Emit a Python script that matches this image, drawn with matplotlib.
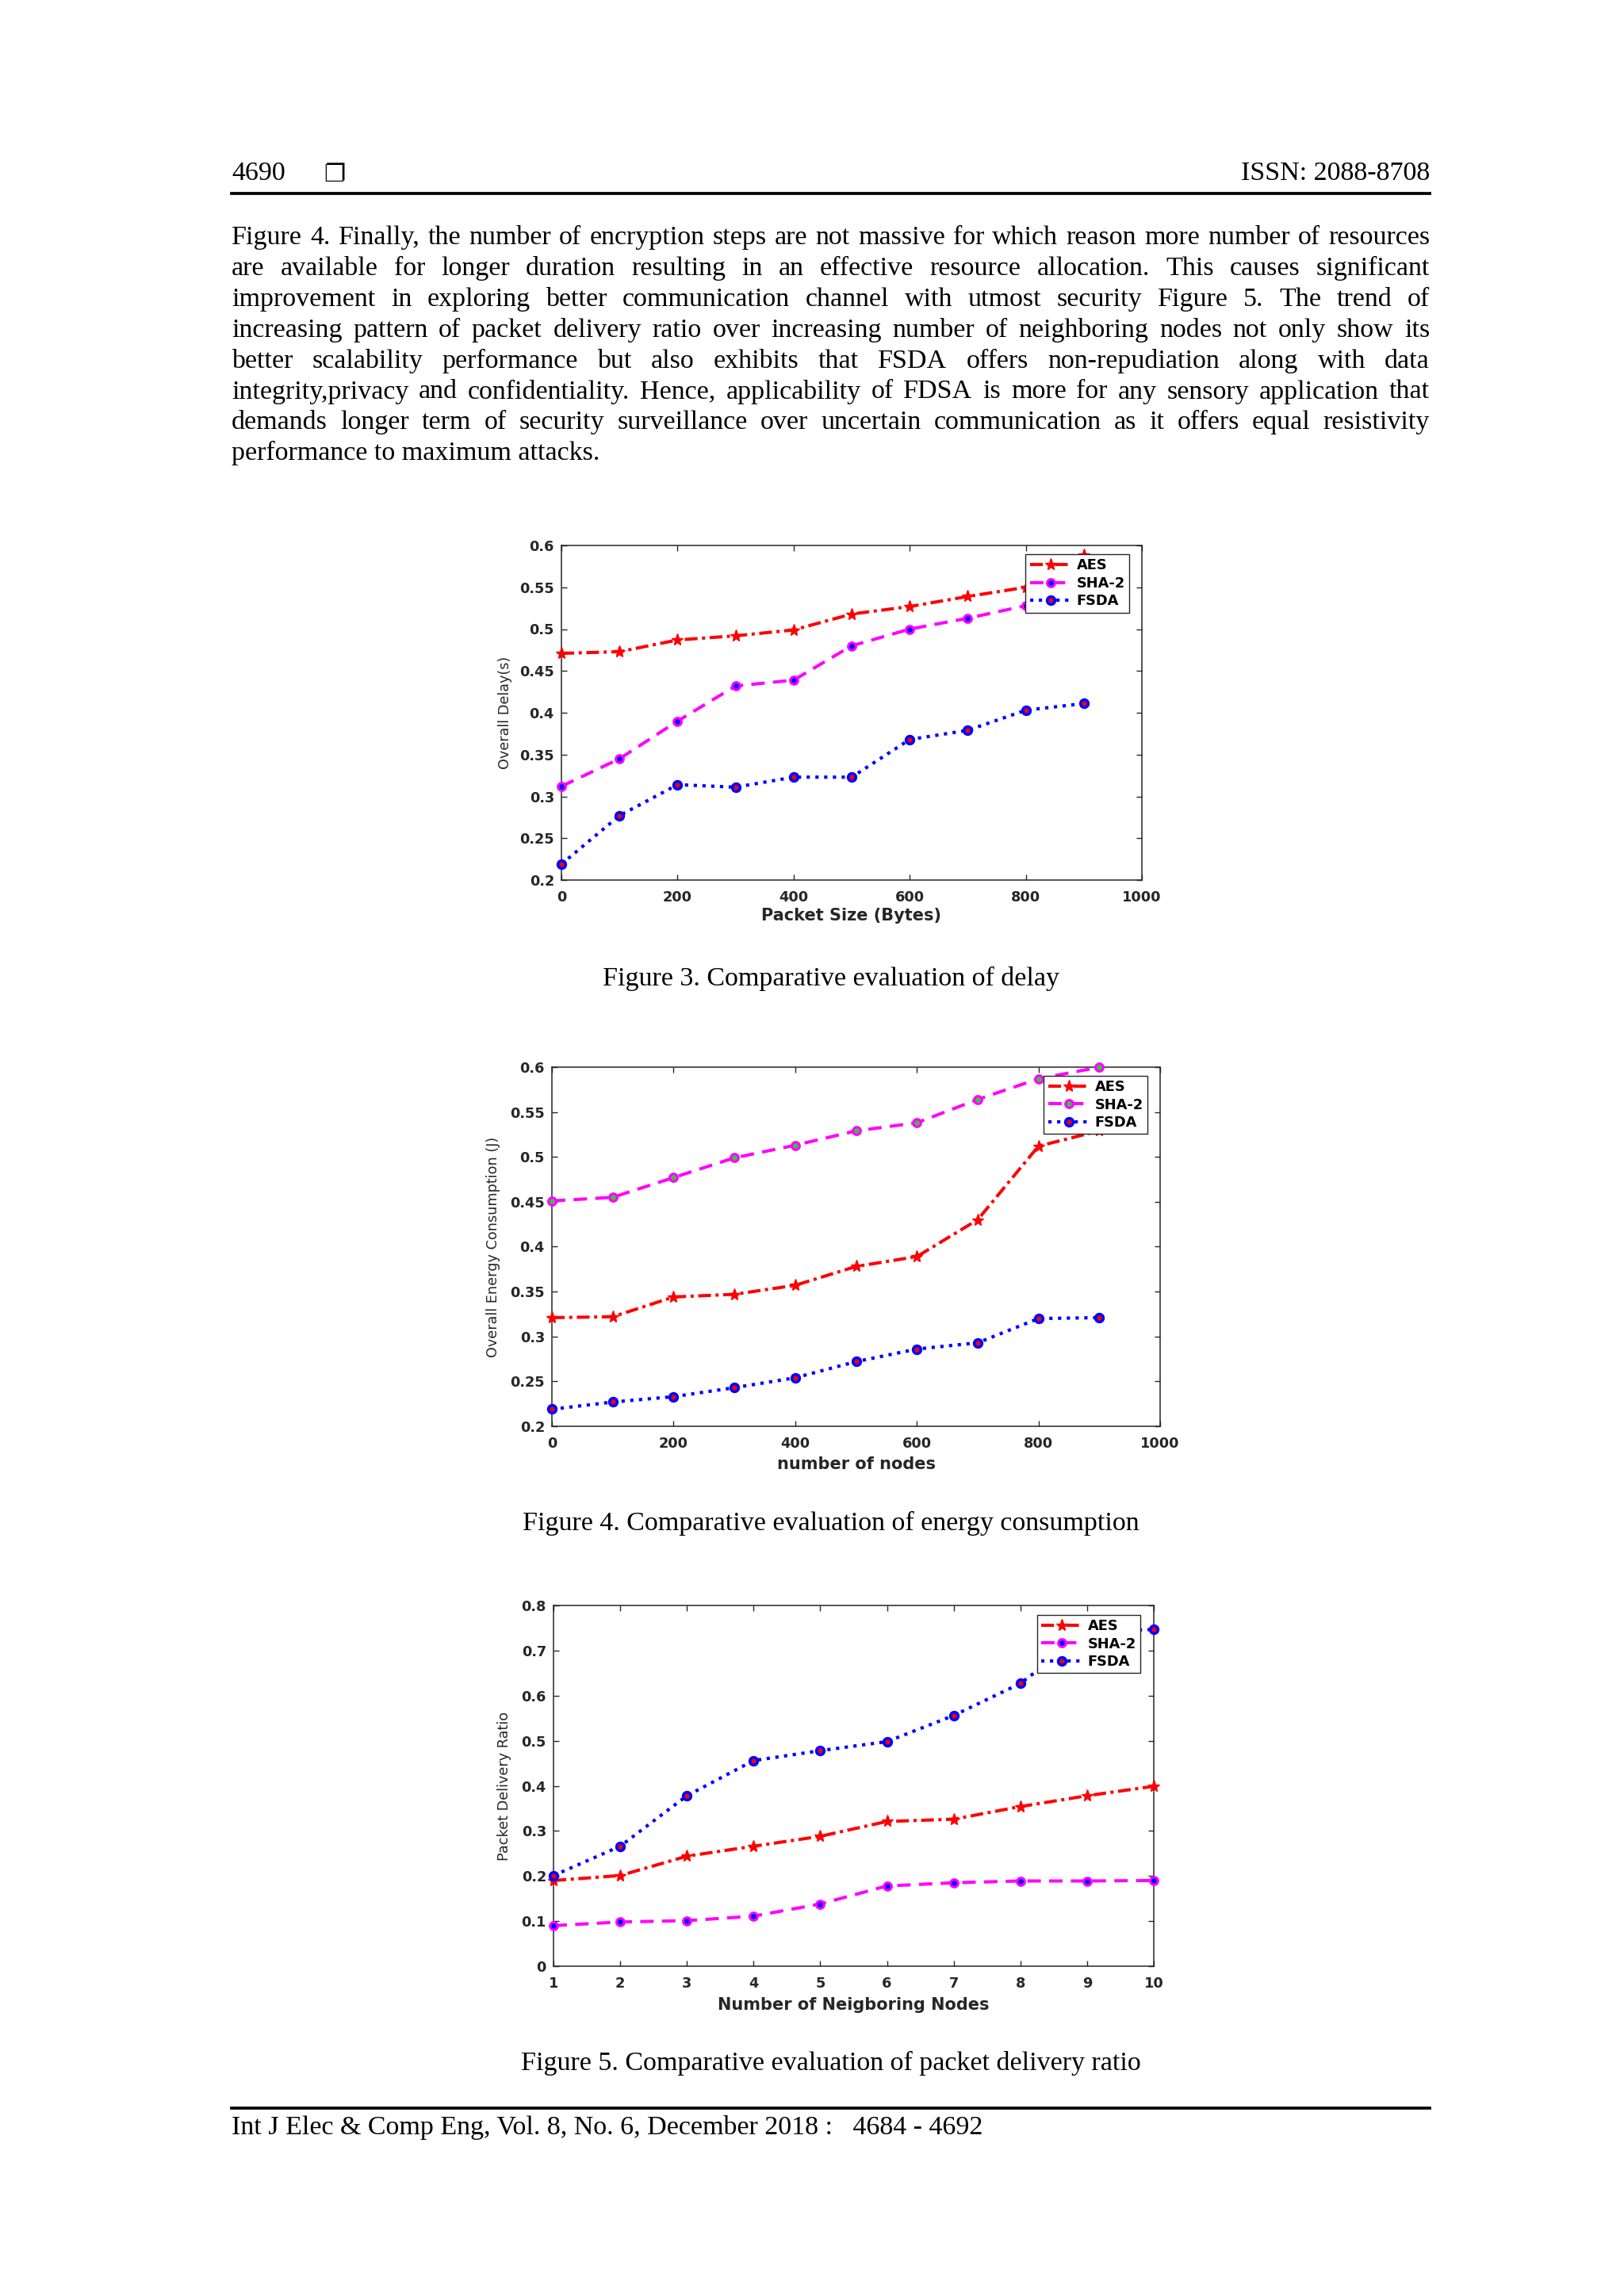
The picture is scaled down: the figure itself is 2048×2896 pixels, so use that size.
import numpy as np
import matplotlib.pyplot as plt

W, H = 2048, 2896

# ---- Figure 3: overall delay vs packet size ----
packet_size = [0, 100, 200, 300, 400, 500, 600, 700, 800, 900]
delay_aes = [0.471, 0.473, 0.487, 0.492, 0.499, 0.518, 0.527, 0.539, 0.550, 0.589]
delay_sha2 = [0.312, 0.345, 0.390, 0.432, 0.439, 0.480, 0.500, 0.513, 0.528, 0.545]
delay_fsda = [0.219, 0.277, 0.314, 0.311, 0.323, 0.323, 0.368, 0.379, 0.403, 0.411]

# ---- Figure 4: energy consumption vs number of nodes ----
num_nodes = [0, 100, 200, 300, 400, 500, 600, 700, 800, 900]
energy_aes = [0.321, 0.322, 0.344, 0.347, 0.357, 0.378, 0.389, 0.430, 0.512, 0.529]
energy_sha2 = [0.451, 0.455, 0.477, 0.499, 0.513, 0.529, 0.538, 0.564, 0.587, 0.600]
energy_fsda = [0.219, 0.227, 0.233, 0.243, 0.254, 0.272, 0.286, 0.293, 0.320, 0.321]

# ---- Figure 5: packet delivery ratio vs neighboring nodes ----
neighbors = [1, 2, 3, 4, 5, 6, 7, 8, 9, 10]
pdr_aes = [0.190, 0.201, 0.244, 0.266, 0.288, 0.321, 0.326, 0.354, 0.378, 0.399]
pdr_sha2 = [0.090, 0.098, 0.101, 0.111, 0.138, 0.178, 0.185, 0.189, 0.189, 0.190]
pdr_fsda = [0.201, 0.266, 0.378, 0.456, 0.478, 0.498, 0.556, 0.627, 0.740, 0.747]

series_names = ["AES", "SHA-2", "FSDA"]

xticks_1000 = [0, 200, 400, 600, 800, 1000]
xticklabels_1000 = ["0", "200", "400", "600", "800", "1000"]
yticks_delay = [0.2, 0.25, 0.3, 0.35, 0.4, 0.45, 0.5, 0.55, 0.6]
yticklabels_delay = ["0.2", "0.25", "0.3", "0.35", "0.4", "0.45", "0.5", "0.55", "0.6"]
xticks_nb = neighbors
xticklabels_nb = [str(n) for n in neighbors]
yticks_pdr = [0, 0.1, 0.2, 0.3, 0.4, 0.5, 0.6, 0.7, 0.8]
yticklabels_pdr = ["0", "0.1", "0.2", "0.3", "0.4", "0.5", "0.6", "0.7", "0.8"]

body_lines = [
    "Figure 4. Finally, the number of encryption steps are not massive for which reason more number of resources",
    "are available for longer duration resulting in an effective resource allocation. This causes significant",
    "improvement in exploring better communication channel with utmost security Figure 5. The trend of",
    "increasing pattern of packet delivery ratio over increasing number of neighboring nodes not only show its",
    "better scalability performance but also exhibits that FSDA offers non-repudiation along with data",
    "integrity,privacy and confidentiality. Hence, applicability of FDSA is more for any sensory application that",
    "demands longer term of security surveillance over uncertain communication as it offers equal resistivity",
    "performance to maximum attacks.",
]

fig = plt.figure(figsize=(W / 100, H / 100), dpi=100)
fig.patch.set_facecolor("white")
renderer = fig.canvas.get_renderer()

serif = dict(family="Liberation Serif", fontsize=24.5, color="black")
LEFT, RIGHT = 292, 1803


def fx(x):
    return x / W


def fy(y):
    return 1 - y / H


# header
fig.text(fx(LEFT), fy(227), "4690", va="baseline", ha="left", **serif)
fig.text(fx(408), fy(229), "\u2750", va="baseline", ha="left",
         family=["DejaVu Sans"], fontsize=22, fontweight="bold", color="black")
fig.text(fx(RIGHT), fy(227), "ISSN: 2088-8708", va="baseline", ha="right", **serif)
fig.add_artist(plt.Line2D([fx(LEFT), fx(RIGHT)], [fy(244), fy(244)],
                          color="black", lw=2.7))

# justified paragraph
for i, line in enumerate(body_lines):
    yb = fy(308 + 38.9 * i)
    if i == len(body_lines) - 1:
        fig.text(fx(LEFT), yb, line, va="baseline", ha="left", **serif)
        continue
    words = line.split()
    texts = [fig.text(0, yb, w, va="baseline", ha="left", **serif) for w in words]
    widths = [t.get_window_extent(renderer).width for t in texts]
    gap = (RIGHT - LEFT - sum(widths)) / (len(words) - 1)
    x = LEFT
    for t, w in zip(texts, widths):
        t.set_x(fx(x))
        x += w + gap

# footer
fig.add_artist(plt.Line2D([fx(LEFT), fx(RIGHT)], [fy(2659), fy(2659)],
                          color="black", lw=2.7))
fig.text(fx(LEFT), fy(2692), "Int J Elec & Comp Eng, Vol. 8, No. 6, December 2018 :   4684 - 4692",
         va="baseline", ha="left", **serif)

axc = "#262626"


def make_axes(box, x, ys, sha_face, xlim, ylim, xt, xtl, yt, ytl, xlabel, ylabel,
              ylab_x, leg_anchor):
    x0, y0, x1, y1 = box
    ax = fig.add_axes([fx(x0), fy(y1), (x1 - x0) / W, (y1 - y0) / H])
    ax.plot(x, ys[0], color="red", lw=2.9, dashes=(4, 1.4, 1, 1.4), marker="*",
            ms=11, mfc="red", mec="red", clip_on=False, label=series_names[0], zorder=3)
    ax.plot(x, ys[1], color="magenta", lw=2.9, dashes=(4.2, 2.6), marker="o",
            ms=7, mfc=sha_face, mec="magenta", mew=2.2, clip_on=False,
            label=series_names[1], zorder=3)
    ax.plot(x, ys[2], color="blue", lw=3.0, linestyle=":", marker="o",
            ms=7, mfc="red", mec="blue", mew=2.6, clip_on=False,
            label=series_names[2], zorder=3)
    ax.set_xlim(*xlim)
    ax.set_ylim(*ylim)
    ax.set_xticks(xt)
    ax.set_xticklabels(xtl)
    ax.set_yticks(yt)
    ax.set_yticklabels(ytl)
    ax.tick_params(direction="in", top=True, right=True, length=5, width=1,
                   colors=axc, labelsize=12.8)
    ax.tick_params(axis="x", pad=9.5)
    ax.tick_params(axis="y", pad=6.5)
    for lab in ax.get_xticklabels() + ax.get_yticklabels():
        lab.set_fontweight("bold")
    for sp in ax.spines.values():
        sp.set_color(axc)
        sp.set_linewidth(1.1)
    ax.set_xlabel(xlabel, fontsize=15, fontweight="bold", color=axc)
    ax.set_ylabel(ylabel, fontsize=12.7, color=axc)
    ax.xaxis.label.set_va("center")
    ax.yaxis.label.set_va("center")
    ax.xaxis.set_label_coords(0.5, -0.107)
    ax.yaxis.set_label_coords(ylab_x, 0.5)
    leg = ax.legend(loc="upper right", bbox_to_anchor=leg_anchor, borderaxespad=0,
                    fancybox=False, framealpha=1, edgecolor=axc,
                    prop=dict(size=12.8, weight="bold"), handlelength=2.9,
                    handletextpad=0.4, labelspacing=0.25, borderpad=0.3)
    leg.get_frame().set_linewidth(1.0)
    leg.set_zorder(5)
    return ax


make_axes((708, 688, 1440, 1110), packet_size, [delay_aes, delay_sha2, delay_fsda], "blue",
          (0, 1000), (0.2, 0.6), xticks_1000, xticklabels_1000, yticks_delay, yticklabels_delay,
          "Packet Size (Bytes)", "Overall Delay(s)", -0.097, (0.978, 0.974))
fig.text(fx(1048), fy(1243), "Figure 3. Comparative evaluation of delay",
         ha="center", va="baseline", **serif)

make_axes((696, 1346, 1463, 1799), num_nodes, [energy_aes, energy_sha2, energy_fsda], "#3fbf3f",
          (0, 1000), (0.2, 0.6), xticks_1000, xticklabels_1000, yticks_delay, yticklabels_delay,
          "number of nodes", "Overall Energy Consumption (J)", -0.0965, (0.979, 0.976))
fig.text(fx(1048), fy(1930), "Figure 4. Comparative evaluation of energy consumption",
         ha="center", va="baseline", **serif)

make_axes((698, 2025, 1455, 2480), neighbors, [pdr_aes, pdr_sha2, pdr_fsda], "blue",
          (1, 10), (0, 0.8), xticks_nb, xticklabels_nb, yticks_pdr, yticklabels_pdr,
          "Number of Neigboring Nodes", "Packet Delivery Ratio", -0.082, (0.9775, 0.974))
fig.text(fx(1048), fy(2611), "Figure 5. Comparative evaluation of packet delivery ratio",
         ha="center", va="baseline", **serif)

fig.savefig("out.png", dpi=100, facecolor="white")
